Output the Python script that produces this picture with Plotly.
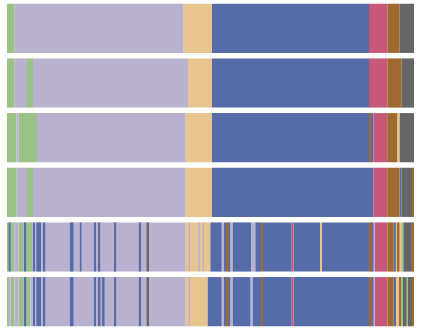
import plotly.graph_objects as go

# cluster colours
colors = {
    "G": "#9AC285",  # green
    "P": "#B9B1D0",  # purple
    "O": "#E8C48E",  # orange
    "B": "#566CA8",  # blue
    "K": "#C6587A",  # pink
    "R": "#A0692F",  # brown
    "Y": "#666666",  # gray
}

# each row: category of each run and the run edges (sample positions)
row1_cats = ["G", "P", "O", "B", "K", "R", "Y"]
row1_edges = [0, 7.7, 176.7, 205, 362, 380.4, 392.7, 407]

row2_cats = ["G", "P", "G", "P", "O", "B", "K", "R", "Y"]
row2_edges = [0, 7.7, 20, 26, 181, 205, 362, 380.4, 394.7, 407]

row3_cats = ["G", "P", "G", "P", "O", "B", "R", "B", "K", "R", "O", "Y"]
row3_edges = [0, 9.4, 11.7, 30, 178.7, 205, 362.2, 364, 366.4, 380.2, 390.2, 392.7, 407]

row4_cats = ["G", "P", "G", "P", "O", "B", "K", "R", "B", "Y", "R"]
row4_edges = [0, 9.7, 20, 26, 178.7, 205, 366.6, 380.2, 392.7, 394.7, 405, 407]

row5_cats = ["G", "B", "G", "P", "G", "P", "B", "G", "P", "B", "P", "B", "P", "B",
             "P", "B", "P", "B", "P", "B", "P", "B", "P", "B", "P", "B", "P", "Y",
             "P", "O", "P", "O", "P", "O", "P", "O", "B", "P", "B", "R", "B", "P",
             "B", "P", "B", "R", "B", "K", "B", "O", "B", "R", "B", "P", "K", "R",
             "B", "O", "R", "O", "G", "Y", "R"]
row5_edges = [0, 1.7, 3.7, 7.4, 11.7, 16, 17, 19.4, 25.4, 26, 28, 29.4, 34, 36,
              38.4, 62.7, 66.7, 72.7, 74.7, 86.7, 89, 91, 93.4, 107.7, 109.4, 131.7,
              134, 139.4, 142, 178.7, 181.7, 183, 191, 192.7, 195.7, 197, 203.4,
              214.7, 217.4, 219, 221.7, 223.4, 225.7, 244, 248.4, 254, 256, 284.7,
              286.7, 313, 315, 362, 364.7, 366.4, 368, 380.4, 386.7, 388.9, 390.9,
              392.4, 394.2, 396.4, 404.9, 407]

row6_cats = ["G", "P", "G", "P", "G", "P", "B", "G", "P", "B", "P", "B", "P", "B",
             "P", "B", "P", "B", "P", "B", "P", "B", "P", "B", "P", "B", "P", "Y",
             "P", "O", "P", "O", "B", "P", "B", "R", "B", "P", "B", "P", "B", "R",
             "B", "K", "B", "R", "B", "P", "K", "R", "B", "O", "R", "G", "Y", "G",
             "Y", "R"]
row6_edges = [0, 1.4, 3.7, 7.4, 11.7, 16, 17, 19.4, 23.4, 26, 28, 29.4, 34, 36,
              38.4, 62.7, 66.7, 86.7, 89, 91, 93.4, 95, 97.7, 107.7, 109.4, 131.7,
              134, 139.4, 142, 178.7, 181.7, 183, 200.7, 214.7, 217.4, 219, 221.7,
              223.4, 225.7, 243.4, 245.7, 254, 256, 284.7, 286.7, 362, 364.7, 366.4,
              368, 380.4, 386.7, 389, 392.7, 393.7, 396, 399.4, 401, 405, 407]

rows = [
    (row1_cats, row1_edges),
    (row2_cats, row2_edges),
    (row3_cats, row3_edges),
    (row4_cats, row4_edges),
    (row5_cats, row5_edges),
    (row6_cats, row6_edges),
]

# gather runs per category so each colour is one trace
runs = {c: {"y": [], "base": [], "x": []} for c in colors}
for i, (cats, edges) in enumerate(rows):
    for j, c in enumerate(cats):
        runs[c]["y"].append(i)
        runs[c]["base"].append(edges[j])
        runs[c]["x"].append(edges[j + 1] - edges[j])

fig = go.Figure()
for c, d in runs.items():
    fig.add_trace(go.Bar(
        y=d["y"], x=d["x"], base=d["base"], orientation="h",
        width=0.9, name=c,
        marker=dict(color=colors[c], line=dict(width=0)),
    ))

fig.update_layout(
    width=423, height=331,
    margin=dict(l=7, r=9, t=1, b=2),
    barmode="overlay",
    showlegend=False,
    plot_bgcolor="white",
    paper_bgcolor="white",
    xaxis=dict(range=[0, 407], visible=False),
    yaxis=dict(range=[5.5, -0.5], visible=False),
)

# page body has a default 8px margin, drop it so the figure sits at 0,0
fig.write_html("out.html", config={"displayModeBar": False},
               post_script="document.body.style.margin='0';")
